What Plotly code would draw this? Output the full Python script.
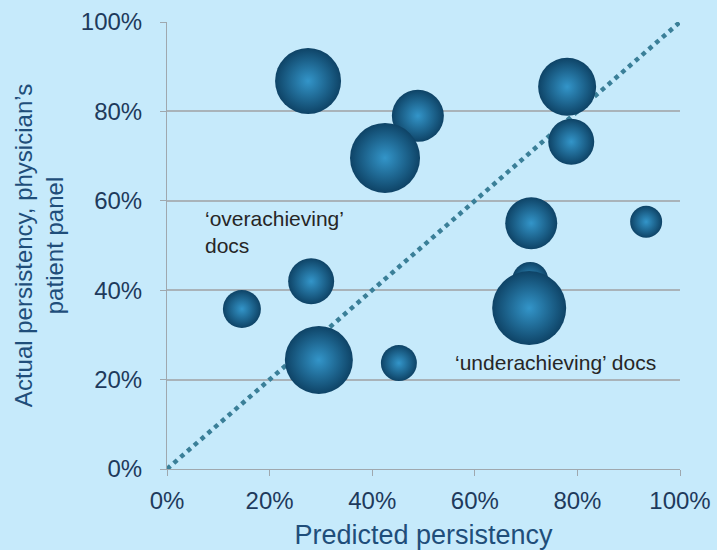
import plotly.graph_objects as go

# Data
predicted = [27.5, 48.9, 42.5, 78.0, 78.8, 71.0, 93.4, 70.8, 70.6, 28.1, 14.6, 29.6, 45.2]
actual = [86.8, 79.0, 69.6, 85.5, 73.2, 55.0, 55.3, 42.3, 36.0, 42.0, 35.8, 24.4, 23.7]
panel_size = [66, 52, 70, 58, 46, 52, 32, 36, 74, 46, 38, 68, 36]
diag = [0, 100]
tick_vals = [0, 20, 40, 60, 80, 100]
tick_text = ["0%", "20%", "40%", "60%", "80%", "100%"]

BG = "#C6EAFB"
fig = go.Figure()

fig.add_trace(go.Scatter(
    x=diag, y=diag, mode="lines",
    line=dict(color="#3A7F98", width=4.5, dash="dot"),
    hoverinfo="skip", showlegend=False, cliponaxis=False,
))

fig.add_trace(go.Scatter(
    x=predicted, y=actual, mode="markers",
    marker=dict(
        size=panel_size, sizemode="diameter", sizeref=1,
        color="#0E4366",
        gradient=dict(type="radial", color="#3395C9"),
        line=dict(width=0), opacity=1,
    ),
    showlegend=False, cliponaxis=False,
))

ann_font = dict(family="Liberation Sans, Arial", size=21, color="#262626")
fig.add_annotation(x=7.0, y=53.0, xref="x", yref="y",
                   text="‘overachieving’<br><span style='line-height:0.9'>docs</span>",
                   showarrow=False, xanchor="left", yanchor="middle", align="left",
                   font=ann_font)
fig.add_annotation(x=55.7, y=23.8, xref="x", yref="y", text="‘underachieving’ docs",
                   showarrow=False, xanchor="left", yanchor="middle", align="left",
                   font=ann_font)

axis_font = dict(family="Liberation Sans, Arial", size=24, color="#1E3A5C")

fig.update_layout(
    width=717, height=550,
    margin=dict(l=167, r=37, t=22, b=81),
    paper_bgcolor=BG, plot_bgcolor=BG,
    font=dict(family="Liberation Sans, Arial"),
    xaxis=dict(
        range=[0, 100], tickvals=tick_vals, ticktext=tick_text,
        showgrid=False, zeroline=False, automargin=False,
        showline=True, linecolor="#9FA8AE", linewidth=1,
        ticks="outside", ticklen=6, tickcolor="#9FA8AE",
        tickfont=axis_font, ticklabelstandoff=4,
        title=dict(text="Predicted persistency",
                   font=dict(family="Liberation Sans, Arial", size=27, color="#1F4E7A"),
                   standoff=13),
    ),
    yaxis=dict(
        range=[0, 100], tickvals=tick_vals, ticktext=tick_text,
        showgrid=True, gridcolor="#A9B3B9", gridwidth=1.5,
        zeroline=False, automargin=False,
        showline=True, linecolor="#9FA8AE", linewidth=1,
        ticks="outside", ticklen=6, tickcolor="#9FA8AE",
        tickfont=axis_font, ticklabelstandoff=13,
        title=dict(text="Actual persistency, physician’s<br>patient panel",
                   font=dict(family="Liberation Sans, Arial", size=24, color="#1F4E7A"),
                   standoff=10),
    ),
)

fig.write_html("out.html")
